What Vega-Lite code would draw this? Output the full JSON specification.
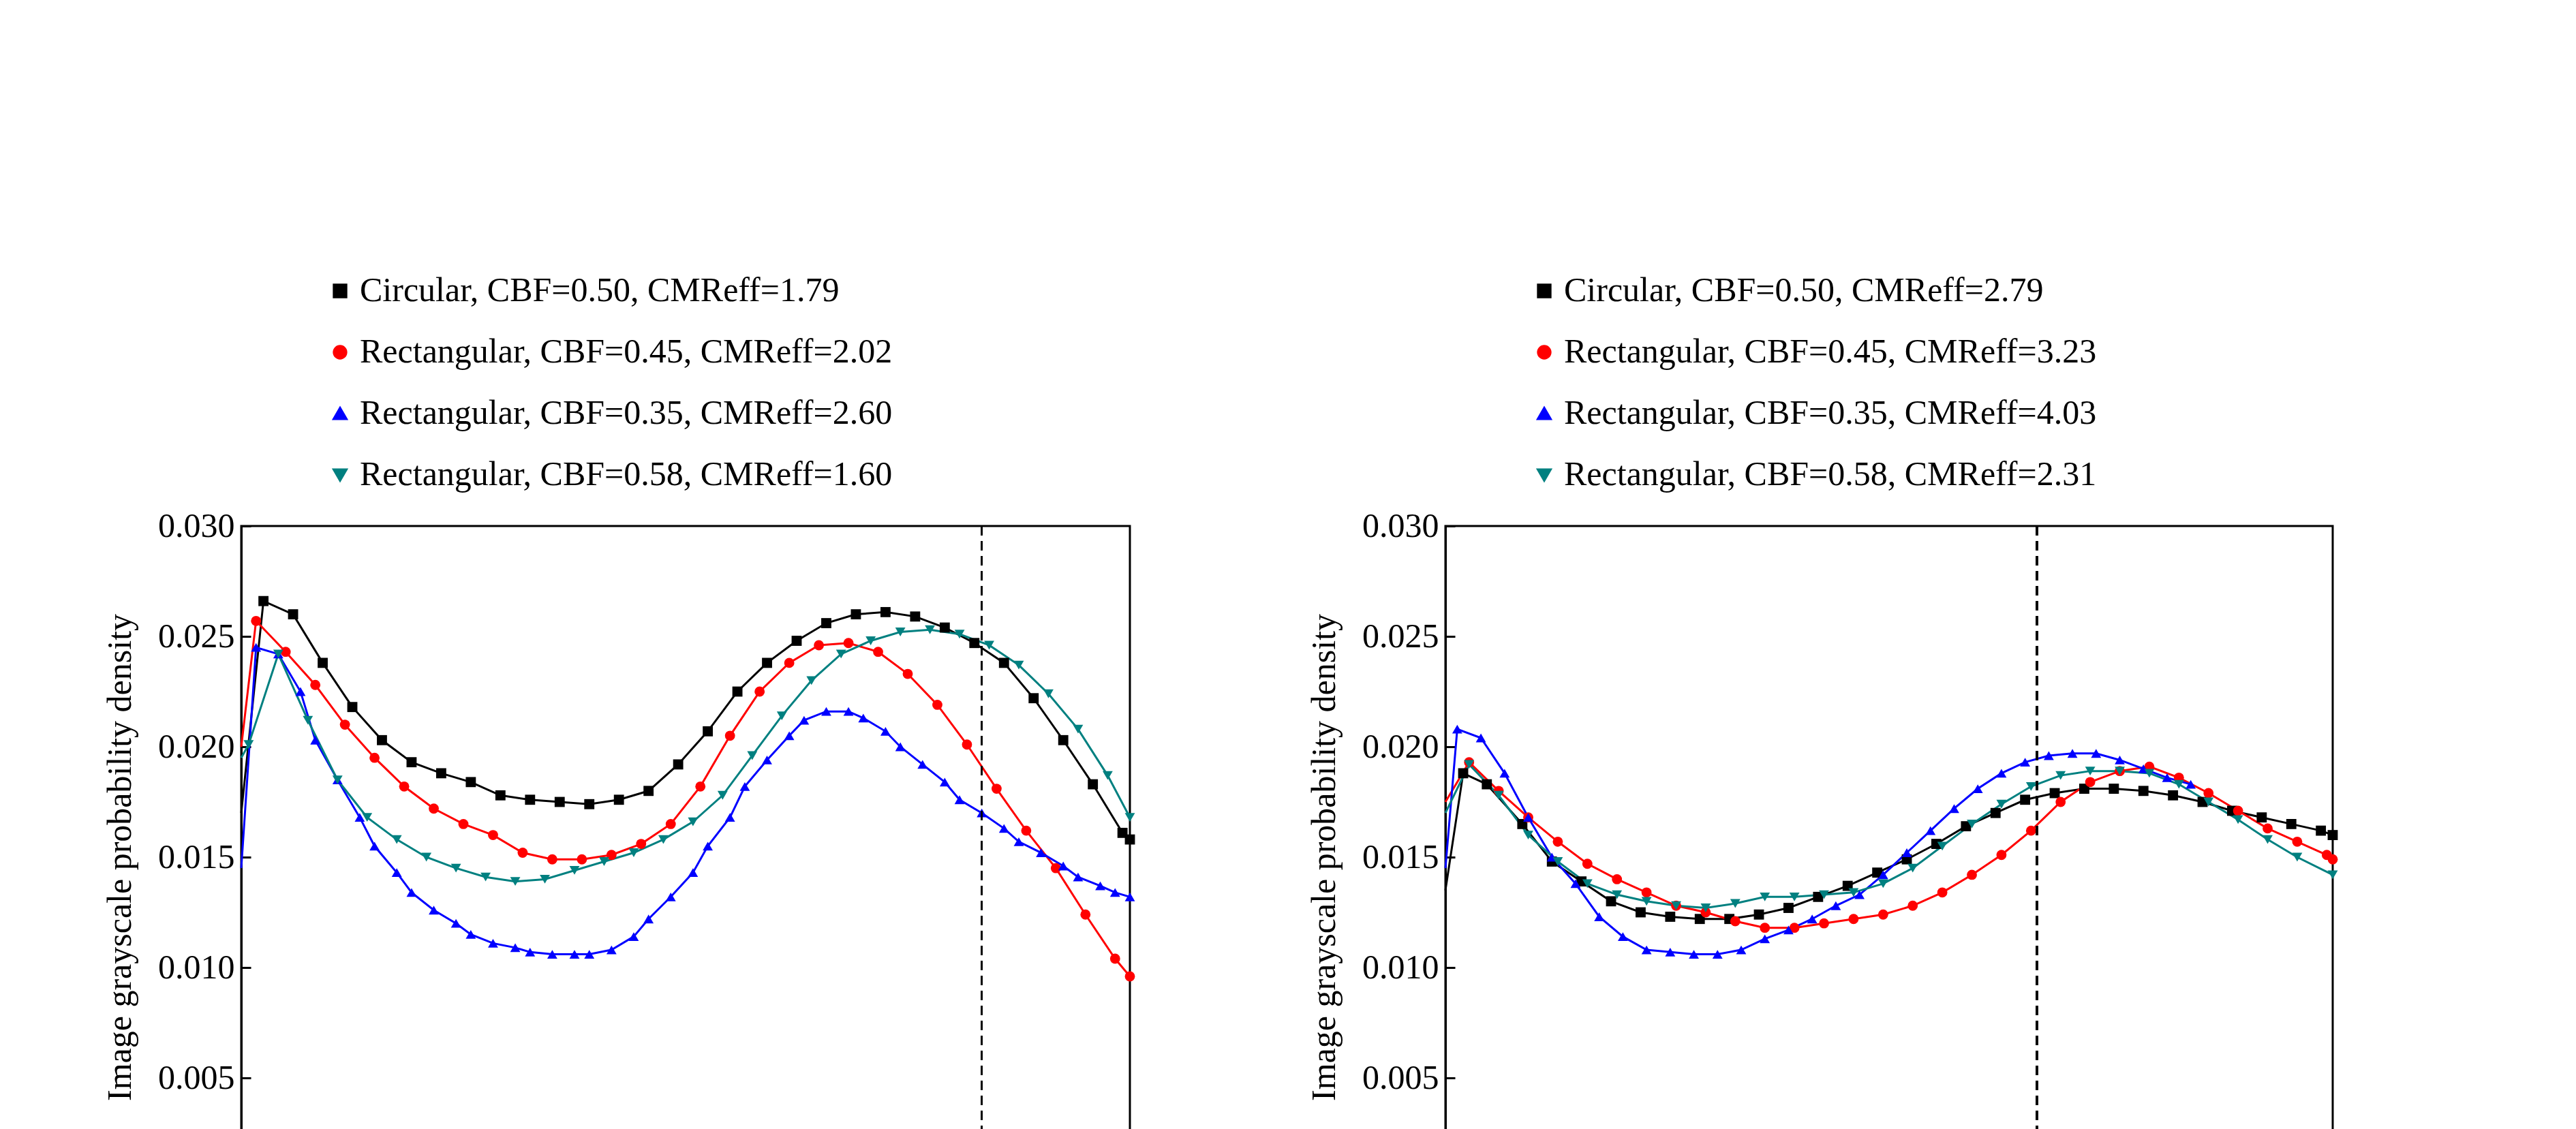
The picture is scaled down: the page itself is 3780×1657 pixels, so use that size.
{
  "$schema": "https://vega.github.io/schema/vega-lite/v6.json",
  "background": "white",
  "padding": {"left": 150, "top": 400, "right": 150, "bottom": 10},
  "config": {
    "font": "Liberation Serif",
    "view": {"stroke": "black", "strokeWidth": 3},
    "axis": {"domainColor": "black", "domainWidth": 3, "tickColor": "black", "tickWidth": 3, "tickSize": -14, "labelFontSize": 50, "titleFontSize": 50, "labelColor": "black", "titleColor": "black", "titleFontWeight": "normal", "grid": false, "labelPadding": 24, "labelFont": "Liberation Serif", "titleFont": "Liberation Serif"},
    "legend": {"labelFontSize": 50, "labelFont": "Liberation Serif", "labelColor": "black", "symbolSize": 300, "rowPadding": 40, "labelLimit": 1500, "symbolStrokeWidth": 4, "orient": "none", "legendX": 120, "legendY": -370, "direction": "vertical", "padding": 0, "symbolType": "stroke"},
    "title": {"fontSize": 50, "font": "Liberation Serif", "fontWeight": "normal", "color": "black", "orient": "bottom", "offset": 40},
    "concat": {"spacing": 250}
  },
  "datasets": {
    "a": [
      {"s": "1", "r": 0, "d": 0.017}, {"s": "1", "r": 0.03, "d": 0.0266}, {"s": "1", "r": 0.07, "d": 0.026}, {"s": "1", "r": 0.11, "d": 0.0238}, {"s": "1", "r": 0.15, "d": 0.0218}, {"s": "1", "r": 0.19, "d": 0.0203}, {"s": "1", "r": 0.23, "d": 0.0193}, {"s": "1", "r": 0.27, "d": 0.0188}, {"s": "1", "r": 0.31, "d": 0.0184}, {"s": "1", "r": 0.35, "d": 0.0178}, {"s": "1", "r": 0.39, "d": 0.0176}, {"s": "1", "r": 0.43, "d": 0.0175}, {"s": "1", "r": 0.47, "d": 0.0174}, {"s": "1", "r": 0.51, "d": 0.0176}, {"s": "1", "r": 0.55, "d": 0.018}, {"s": "1", "r": 0.59, "d": 0.0192}, {"s": "1", "r": 0.63, "d": 0.0207}, {"s": "1", "r": 0.67, "d": 0.0225}, {"s": "1", "r": 0.71, "d": 0.0238}, {"s": "1", "r": 0.75, "d": 0.0248}, {"s": "1", "r": 0.79, "d": 0.0256}, {"s": "1", "r": 0.83, "d": 0.026}, {"s": "1", "r": 0.87, "d": 0.0261}, {"s": "1", "r": 0.91, "d": 0.0259}, {"s": "1", "r": 0.95, "d": 0.0254}, {"s": "1", "r": 0.99, "d": 0.0247}, {"s": "1", "r": 1.03, "d": 0.0238}, {"s": "1", "r": 1.07, "d": 0.0222}, {"s": "1", "r": 1.11, "d": 0.0203}, {"s": "1", "r": 1.15, "d": 0.0183}, {"s": "1", "r": 1.19, "d": 0.0161}, {"s": "1", "r": 1.2, "d": 0.0158},
      {"s": "2", "r": 0, "d": 0.02}, {"s": "2", "r": 0.02, "d": 0.0257}, {"s": "2", "r": 0.06, "d": 0.0243}, {"s": "2", "r": 0.1, "d": 0.0228}, {"s": "2", "r": 0.14, "d": 0.021}, {"s": "2", "r": 0.18, "d": 0.0195}, {"s": "2", "r": 0.22, "d": 0.0182}, {"s": "2", "r": 0.26, "d": 0.0172}, {"s": "2", "r": 0.3, "d": 0.0165}, {"s": "2", "r": 0.34, "d": 0.016}, {"s": "2", "r": 0.38, "d": 0.0152}, {"s": "2", "r": 0.42, "d": 0.0149}, {"s": "2", "r": 0.46, "d": 0.0149}, {"s": "2", "r": 0.5, "d": 0.0151}, {"s": "2", "r": 0.54, "d": 0.0156}, {"s": "2", "r": 0.58, "d": 0.0165}, {"s": "2", "r": 0.62, "d": 0.0182}, {"s": "2", "r": 0.66, "d": 0.0205}, {"s": "2", "r": 0.7, "d": 0.0225}, {"s": "2", "r": 0.74, "d": 0.0238}, {"s": "2", "r": 0.78, "d": 0.0246}, {"s": "2", "r": 0.82, "d": 0.0247}, {"s": "2", "r": 0.86, "d": 0.0243}, {"s": "2", "r": 0.9, "d": 0.0233}, {"s": "2", "r": 0.94, "d": 0.0219}, {"s": "2", "r": 0.98, "d": 0.0201}, {"s": "2", "r": 1.02, "d": 0.0181}, {"s": "2", "r": 1.06, "d": 0.0162}, {"s": "2", "r": 1.1, "d": 0.0145}, {"s": "2", "r": 1.14, "d": 0.0124}, {"s": "2", "r": 1.18, "d": 0.0104}, {"s": "2", "r": 1.2, "d": 0.0096},
      {"s": "3", "r": 0, "d": 0.0145}, {"s": "3", "r": 0.02, "d": 0.0245}, {"s": "3", "r": 0.05, "d": 0.0242}, {"s": "3", "r": 0.08, "d": 0.0225}, {"s": "3", "r": 0.1, "d": 0.0203}, {"s": "3", "r": 0.13, "d": 0.0185}, {"s": "3", "r": 0.16, "d": 0.0168}, {"s": "3", "r": 0.18, "d": 0.0155}, {"s": "3", "r": 0.21, "d": 0.0143}, {"s": "3", "r": 0.23, "d": 0.0134}, {"s": "3", "r": 0.26, "d": 0.0126}, {"s": "3", "r": 0.29, "d": 0.012}, {"s": "3", "r": 0.31, "d": 0.0115}, {"s": "3", "r": 0.34, "d": 0.0111}, {"s": "3", "r": 0.37, "d": 0.0109}, {"s": "3", "r": 0.39, "d": 0.0107}, {"s": "3", "r": 0.42, "d": 0.0106}, {"s": "3", "r": 0.45, "d": 0.0106}, {"s": "3", "r": 0.47, "d": 0.0106}, {"s": "3", "r": 0.5, "d": 0.0108}, {"s": "3", "r": 0.53, "d": 0.0114}, {"s": "3", "r": 0.55, "d": 0.0122}, {"s": "3", "r": 0.58, "d": 0.0132}, {"s": "3", "r": 0.61, "d": 0.0143}, {"s": "3", "r": 0.63, "d": 0.0155}, {"s": "3", "r": 0.66, "d": 0.0168}, {"s": "3", "r": 0.68, "d": 0.0182}, {"s": "3", "r": 0.71, "d": 0.0194}, {"s": "3", "r": 0.74, "d": 0.0205}, {"s": "3", "r": 0.76, "d": 0.0212}, {"s": "3", "r": 0.79, "d": 0.0216}, {"s": "3", "r": 0.82, "d": 0.0216}, {"s": "3", "r": 0.84, "d": 0.0213}, {"s": "3", "r": 0.87, "d": 0.0207}, {"s": "3", "r": 0.89, "d": 0.02}, {"s": "3", "r": 0.92, "d": 0.0192}, {"s": "3", "r": 0.95, "d": 0.0184}, {"s": "3", "r": 0.97, "d": 0.0176}, {"s": "3", "r": 1.0, "d": 0.017}, {"s": "3", "r": 1.03, "d": 0.0163}, {"s": "3", "r": 1.05, "d": 0.0157}, {"s": "3", "r": 1.08, "d": 0.0152}, {"s": "3", "r": 1.11, "d": 0.0146}, {"s": "3", "r": 1.13, "d": 0.0141}, {"s": "3", "r": 1.16, "d": 0.0137}, {"s": "3", "r": 1.18, "d": 0.0134}, {"s": "3", "r": 1.2, "d": 0.0132},
      {"s": "4", "r": 0, "d": 0.0195}, {"s": "4", "r": 0.01, "d": 0.0201}, {"s": "4", "r": 0.05, "d": 0.0242}, {"s": "4", "r": 0.09, "d": 0.0212}, {"s": "4", "r": 0.13, "d": 0.0185}, {"s": "4", "r": 0.17, "d": 0.0168}, {"s": "4", "r": 0.21, "d": 0.0158}, {"s": "4", "r": 0.25, "d": 0.015}, {"s": "4", "r": 0.29, "d": 0.0145}, {"s": "4", "r": 0.33, "d": 0.0141}, {"s": "4", "r": 0.37, "d": 0.0139}, {"s": "4", "r": 0.41, "d": 0.014}, {"s": "4", "r": 0.45, "d": 0.0144}, {"s": "4", "r": 0.49, "d": 0.0148}, {"s": "4", "r": 0.53, "d": 0.0152}, {"s": "4", "r": 0.57, "d": 0.0158}, {"s": "4", "r": 0.61, "d": 0.0166}, {"s": "4", "r": 0.65, "d": 0.0178}, {"s": "4", "r": 0.69, "d": 0.0196}, {"s": "4", "r": 0.73, "d": 0.0214}, {"s": "4", "r": 0.77, "d": 0.023}, {"s": "4", "r": 0.81, "d": 0.0242}, {"s": "4", "r": 0.85, "d": 0.0248}, {"s": "4", "r": 0.89, "d": 0.0252}, {"s": "4", "r": 0.93, "d": 0.0253}, {"s": "4", "r": 0.97, "d": 0.0251}, {"s": "4", "r": 1.01, "d": 0.0246}, {"s": "4", "r": 1.05, "d": 0.0237}, {"s": "4", "r": 1.09, "d": 0.0224}, {"s": "4", "r": 1.13, "d": 0.0208}, {"s": "4", "r": 1.17, "d": 0.0187}, {"s": "4", "r": 1.2, "d": 0.0168}
    ],
    "b": [
      {"s": "1", "r": 0, "d": 0.0135}, {"s": "1", "r": 0.03, "d": 0.0188}, {"s": "1", "r": 0.07, "d": 0.0183}, {"s": "1", "r": 0.13, "d": 0.0165}, {"s": "1", "r": 0.18, "d": 0.0148}, {"s": "1", "r": 0.23, "d": 0.0139}, {"s": "1", "r": 0.28, "d": 0.013}, {"s": "1", "r": 0.33, "d": 0.0125}, {"s": "1", "r": 0.38, "d": 0.0123}, {"s": "1", "r": 0.43, "d": 0.0122}, {"s": "1", "r": 0.48, "d": 0.0122}, {"s": "1", "r": 0.53, "d": 0.0124}, {"s": "1", "r": 0.58, "d": 0.0127}, {"s": "1", "r": 0.63, "d": 0.0132}, {"s": "1", "r": 0.68, "d": 0.0137}, {"s": "1", "r": 0.73, "d": 0.0143}, {"s": "1", "r": 0.78, "d": 0.0149}, {"s": "1", "r": 0.83, "d": 0.0156}, {"s": "1", "r": 0.88, "d": 0.0164}, {"s": "1", "r": 0.93, "d": 0.017}, {"s": "1", "r": 0.98, "d": 0.0176}, {"s": "1", "r": 1.03, "d": 0.0179}, {"s": "1", "r": 1.08, "d": 0.0181}, {"s": "1", "r": 1.13, "d": 0.0181}, {"s": "1", "r": 1.18, "d": 0.018}, {"s": "1", "r": 1.23, "d": 0.0178}, {"s": "1", "r": 1.28, "d": 0.0175}, {"s": "1", "r": 1.33, "d": 0.0171}, {"s": "1", "r": 1.38, "d": 0.0168}, {"s": "1", "r": 1.43, "d": 0.0165}, {"s": "1", "r": 1.48, "d": 0.0162}, {"s": "1", "r": 1.5, "d": 0.016},
      {"s": "2", "r": 0, "d": 0.0175}, {"s": "2", "r": 0.04, "d": 0.0193}, {"s": "2", "r": 0.09, "d": 0.018}, {"s": "2", "r": 0.14, "d": 0.0168}, {"s": "2", "r": 0.19, "d": 0.0157}, {"s": "2", "r": 0.24, "d": 0.0147}, {"s": "2", "r": 0.29, "d": 0.014}, {"s": "2", "r": 0.34, "d": 0.0134}, {"s": "2", "r": 0.39, "d": 0.0128}, {"s": "2", "r": 0.44, "d": 0.0125}, {"s": "2", "r": 0.49, "d": 0.0121}, {"s": "2", "r": 0.54, "d": 0.0118}, {"s": "2", "r": 0.59, "d": 0.0118}, {"s": "2", "r": 0.64, "d": 0.012}, {"s": "2", "r": 0.69, "d": 0.0122}, {"s": "2", "r": 0.74, "d": 0.0124}, {"s": "2", "r": 0.79, "d": 0.0128}, {"s": "2", "r": 0.84, "d": 0.0134}, {"s": "2", "r": 0.89, "d": 0.0142}, {"s": "2", "r": 0.94, "d": 0.0151}, {"s": "2", "r": 0.99, "d": 0.0162}, {"s": "2", "r": 1.04, "d": 0.0175}, {"s": "2", "r": 1.09, "d": 0.0184}, {"s": "2", "r": 1.14, "d": 0.0189}, {"s": "2", "r": 1.19, "d": 0.0191}, {"s": "2", "r": 1.24, "d": 0.0186}, {"s": "2", "r": 1.29, "d": 0.0179}, {"s": "2", "r": 1.34, "d": 0.0171}, {"s": "2", "r": 1.39, "d": 0.0163}, {"s": "2", "r": 1.44, "d": 0.0157}, {"s": "2", "r": 1.49, "d": 0.0151}, {"s": "2", "r": 1.5, "d": 0.0149},
      {"s": "3", "r": 0, "d": 0.0145}, {"s": "3", "r": 0.02, "d": 0.0208}, {"s": "3", "r": 0.06, "d": 0.0204}, {"s": "3", "r": 0.1, "d": 0.0188}, {"s": "3", "r": 0.14, "d": 0.0168}, {"s": "3", "r": 0.18, "d": 0.015}, {"s": "3", "r": 0.22, "d": 0.0138}, {"s": "3", "r": 0.26, "d": 0.0123}, {"s": "3", "r": 0.3, "d": 0.0114}, {"s": "3", "r": 0.34, "d": 0.0108}, {"s": "3", "r": 0.38, "d": 0.0107}, {"s": "3", "r": 0.42, "d": 0.0106}, {"s": "3", "r": 0.46, "d": 0.0106}, {"s": "3", "r": 0.5, "d": 0.0108}, {"s": "3", "r": 0.54, "d": 0.0113}, {"s": "3", "r": 0.58, "d": 0.0117}, {"s": "3", "r": 0.62, "d": 0.0122}, {"s": "3", "r": 0.66, "d": 0.0128}, {"s": "3", "r": 0.7, "d": 0.0133}, {"s": "3", "r": 0.74, "d": 0.0142}, {"s": "3", "r": 0.78, "d": 0.0152}, {"s": "3", "r": 0.82, "d": 0.0162}, {"s": "3", "r": 0.86, "d": 0.0172}, {"s": "3", "r": 0.9, "d": 0.0181}, {"s": "3", "r": 0.94, "d": 0.0188}, {"s": "3", "r": 0.98, "d": 0.0193}, {"s": "3", "r": 1.02, "d": 0.0196}, {"s": "3", "r": 1.06, "d": 0.0197}, {"s": "3", "r": 1.1, "d": 0.0197}, {"s": "3", "r": 1.14, "d": 0.0194}, {"s": "3", "r": 1.18, "d": 0.019}, {"s": "3", "r": 1.22, "d": 0.0186}, {"s": "3", "r": 1.26, "d": 0.0183},
      {"s": "4", "r": 0, "d": 0.017}, {"s": "4", "r": 0.04, "d": 0.0192}, {"s": "4", "r": 0.09, "d": 0.0178}, {"s": "4", "r": 0.14, "d": 0.016}, {"s": "4", "r": 0.19, "d": 0.0148}, {"s": "4", "r": 0.24, "d": 0.0138}, {"s": "4", "r": 0.29, "d": 0.0133}, {"s": "4", "r": 0.34, "d": 0.013}, {"s": "4", "r": 0.39, "d": 0.0128}, {"s": "4", "r": 0.44, "d": 0.0127}, {"s": "4", "r": 0.49, "d": 0.0129}, {"s": "4", "r": 0.54, "d": 0.0132}, {"s": "4", "r": 0.59, "d": 0.0132}, {"s": "4", "r": 0.64, "d": 0.0133}, {"s": "4", "r": 0.69, "d": 0.0134}, {"s": "4", "r": 0.74, "d": 0.0138}, {"s": "4", "r": 0.79, "d": 0.0145}, {"s": "4", "r": 0.84, "d": 0.0155}, {"s": "4", "r": 0.89, "d": 0.0165}, {"s": "4", "r": 0.94, "d": 0.0174}, {"s": "4", "r": 0.99, "d": 0.0182}, {"s": "4", "r": 1.04, "d": 0.0187}, {"s": "4", "r": 1.09, "d": 0.0189}, {"s": "4", "r": 1.14, "d": 0.0189}, {"s": "4", "r": 1.19, "d": 0.0188}, {"s": "4", "r": 1.24, "d": 0.0183}, {"s": "4", "r": 1.29, "d": 0.0175}, {"s": "4", "r": 1.34, "d": 0.0167}, {"s": "4", "r": 1.39, "d": 0.0158}, {"s": "4", "r": 1.44, "d": 0.015}, {"s": "4", "r": 1.5, "d": 0.0142}
    ]
  },
  "resolve": {"scale": {"color": "independent", "shape": "independent", "x": "independent"}, "legend": {"color": "independent", "shape": "independent"}},
  "hconcat": [
    {
      "width": 1304,
      "height": 972,
      "title": "(a) CTMR=0.90",
      "data": {"name": "a"},
      "encoding": {
        "x": {"field": "r", "type": "quantitative", "scale": {"domain": [0, 1.2], "nice": false}, "title": "Dimensionless radius", "axis": {"values": [0, 0.1, 0.2, 0.3, 0.4, 0.5, 0.6, 0.7, 0.8, 0.9, 1.0, 1.1, 1.2], "labelExpr": "datum.value == 0 ? '0' : (round(datum.value * 10) % 2 == 0 ? format(datum.value, '.1f') : '')", "titlePadding": 40}},
        "y": {"field": "d", "type": "quantitative", "scale": {"domain": [0, 0.03], "nice": false}, "title": "Image grayscale probability density", "axis": {"values": [0, 0.005, 0.01, 0.015, 0.02, 0.025, 0.03], "labelExpr": "datum.value == 0 ? '' : format(datum.value, '.3f')", "titlePadding": 30}},
        "color": {"field": "s", "type": "nominal", "scale": {"domain": ["1", "2", "3", "4"], "range": ["#000000", "#ff0000", "#0000ff", "#008080"]}, "legend": {"title": null, "labelExpr": "datum.value == '1' ? 'Circular, CBF=0.50, CMReff=1.79' : datum.value == '2' ? 'Rectangular, CBF=0.45, CMReff=2.02' : datum.value == '3' ? 'Rectangular, CBF=0.35, CMReff=2.60' : 'Rectangular, CBF=0.58, CMReff=1.60'"}}
      },
      "layer": [
        {
          "mark": {"type": "line", "strokeWidth": 3},
          "encoding": {}
        },
        {
          "transform": [{"filter": "datum.r > 0"}],
          "mark": {"type": "point", "filled": true, "size": 220, "opacity": 1},
          "encoding": {
            "shape": {"field": "s", "type": "nominal", "scale": {"domain": ["1", "2", "3", "4"], "range": ["square", "circle", "triangle-up", "triangle-down"]}, "legend": null}
          }
        },
        {
          "mark": {"type": "rule", "color": "black", "strokeWidth": 2.5, "strokeDash": [14, 8]},
          "encoding": {"x": {"datum": 1.0}, "y": null, "color": null}
        }
      ]
    },
    {
      "width": 1302,
      "height": 972,
      "title": "(b) CTMR=1.40",
      "data": {"name": "b"},
      "encoding": {
        "x": {"field": "r", "type": "quantitative", "scale": {"domain": [0, 1.5], "nice": false}, "title": "Dimensionless radius", "axis": {"values": [0, 0.1, 0.2, 0.3, 0.4, 0.5, 0.6, 0.7, 0.8, 0.9, 1.0, 1.1, 1.2, 1.3, 1.4, 1.5], "labelExpr": "round(datum.value * 10) % 2 == 1 ? format(datum.value, '.1f') : ''", "titlePadding": 40}},
        "y": {"field": "d", "type": "quantitative", "scale": {"domain": [0, 0.03], "nice": false}, "title": "Image grayscale probability density", "axis": {"values": [0, 0.005, 0.01, 0.015, 0.02, 0.025, 0.03], "labelExpr": "datum.value == 0 ? '0' : format(datum.value, '.3f')", "titlePadding": 30}},
        "color": {"field": "s", "type": "nominal", "scale": {"domain": ["1", "2", "3", "4"], "range": ["#000000", "#ff0000", "#0000ff", "#008080"]}, "legend": {"title": null, "labelExpr": "datum.value == '1' ? 'Circular, CBF=0.50, CMReff=2.79' : datum.value == '2' ? 'Rectangular, CBF=0.45, CMReff=3.23' : datum.value == '3' ? 'Rectangular, CBF=0.35, CMReff=4.03' : 'Rectangular, CBF=0.58, CMReff=2.31'"}}
      },
      "layer": [
        {
          "mark": {"type": "line", "strokeWidth": 3},
          "encoding": {}
        },
        {
          "transform": [{"filter": "datum.r > 0"}],
          "mark": {"type": "point", "filled": true, "size": 220, "opacity": 1},
          "encoding": {
            "shape": {"field": "s", "type": "nominal", "scale": {"domain": ["1", "2", "3", "4"], "range": ["square", "circle", "triangle-up", "triangle-down"]}, "legend": null}
          }
        },
        {
          "mark": {"type": "rule", "color": "black", "strokeWidth": 2.5, "strokeDash": [14, 8]},
          "encoding": {"x": {"datum": 1.0}, "y": null, "color": null}
        }
      ]
    }
  ]
}
